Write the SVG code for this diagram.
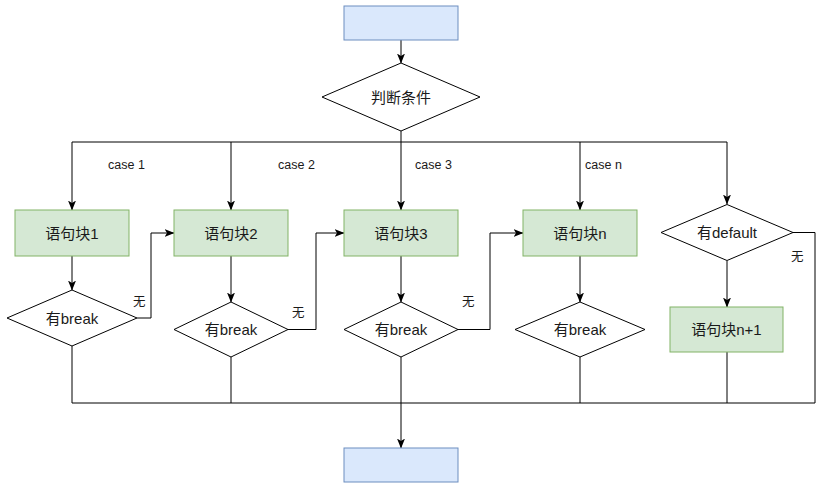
<svg xmlns="http://www.w3.org/2000/svg" width="831" height="489" viewBox="0 0 831 489">
<style>
.blue{fill:#dae8fc;stroke:#6c8ebf;stroke-width:1}
.green{fill:#d5e8d4;stroke:#82b366;stroke-width:1}
.dia{fill:#ffffff;stroke:#000000;stroke-width:1}
.t{font-family:"Liberation Sans","Noto Sans CJK SC",sans-serif;font-size:15px;fill:#1a1a1a;text-anchor:middle;dominant-baseline:central}
.lbl{font-family:"Liberation Sans","Noto Sans CJK SC",sans-serif;font-size:12.5px;fill:#1a1a1a;dominant-baseline:central}
.c{fill:none;stroke:#000000;stroke-width:1}
</style>
<defs>
<marker id="arr" viewBox="0 0 10 8" refX="9.5" refY="4" markerWidth="10" markerHeight="8" markerUnits="userSpaceOnUse" orient="auto">
<path d="M0,0 L10,4 L0,8 L2.5,4 Z" fill="#000000"/>
</marker>
</defs>
<rect width="831" height="489" fill="#ffffff"/>
<g id="connectors">
<path class="c" d="M401,40 L401,63" marker-end="url(#arr)"/>
<path class="c" d="M401,131 L401,210" marker-end="url(#arr)"/>
<path class="c" d="M72,142 L727,142"/>
<path class="c" d="M72,142 L72,210" marker-end="url(#arr)"/>
<path class="c" d="M231,142 L231,210" marker-end="url(#arr)"/>
<path class="c" d="M580,142 L580,210" marker-end="url(#arr)"/>
<path class="c" d="M727,142 L727,204" marker-end="url(#arr)"/>
<path class="c" d="M72,256 L72,290" marker-end="url(#arr)"/>
<path class="c" d="M231,256 L231,302" marker-end="url(#arr)"/>
<path class="c" d="M401,256 L401,302" marker-end="url(#arr)"/>
<path class="c" d="M580,256 L580,302" marker-end="url(#arr)"/>
<path class="c" d="M727,261 L727,307" marker-end="url(#arr)"/>
<path class="c" d="M137,318 L151,318 L151,233 L174,233" marker-end="url(#arr)"/>
<path class="c" d="M288,329.5 L316,329.5 L316,233 L344,233" marker-end="url(#arr)"/>
<path class="c" d="M458,329.5 L490,329.5 L490,233 L523,233" marker-end="url(#arr)"/>
<path class="c" d="M793,232.5 L815,232.5 L815,403 L72,403"/>
<path class="c" d="M72,346 L72,403"/>
<path class="c" d="M231,357 L231,403"/>
<path class="c" d="M580,357 L580,403"/>
<path class="c" d="M727,352 L727,403"/>
<path class="c" d="M401,357 L401,448" marker-end="url(#arr)"/>
<text class="lbl" x="108" y="165">case 1</text>
<text class="lbl" x="278" y="165">case 2</text>
<text class="lbl" x="415" y="165">case 3</text>
<text class="lbl" x="585" y="165">case n</text>
<text class="lbl" x="133" y="302">无</text>
<text class="lbl" x="292" y="313">无</text>
<text class="lbl" x="462" y="302">无</text>
<text class="lbl" x="791" y="257">无</text>
</g>
<g id="start"><rect class="blue" x="344" y="6" width="114" height="34"/></g>
<g id="cond"><polygon class="dia" points="401,63 480,97 401,131 322,97"/><text class="t" x="401" y="97">判断条件</text></g>
<g id="block1"><rect class="green" x="15" y="210" width="114" height="46"/><text class="t" x="72" y="233">语句块1</text></g>
<g id="block2"><rect class="green" x="174" y="210" width="114" height="46"/><text class="t" x="231" y="233">语句块2</text></g>
<g id="block3"><rect class="green" x="344" y="210" width="114" height="46"/><text class="t" x="401" y="233">语句块3</text></g>
<g id="blockn"><rect class="green" x="523" y="210" width="114" height="46"/><text class="t" x="580" y="233">语句块n</text></g>
<g id="default"><polygon class="dia" points="727,204.5 793,232.5 727,260.5 661,232.5"/><text class="t" x="727" y="232.5">有default</text></g>
<g id="break1"><polygon class="dia" points="72,290 137,318 72,346 7,318"/><text class="t" x="72" y="318">有break</text></g>
<g id="break2"><polygon class="dia" points="231,302 288,329.5 231,357 174,329.5"/><text class="t" x="231" y="329.5">有break</text></g>
<g id="break3"><polygon class="dia" points="401,302 458,329.5 401,357 344,329.5"/><text class="t" x="401" y="329.5">有break</text></g>
<g id="breakn"><polygon class="dia" points="580,302 645,329.5 580,357 515,329.5"/><text class="t" x="580" y="329.5">有break</text></g>
<g id="blockn1"><rect class="green" x="670" y="307" width="113" height="45"/><text class="t" x="726.5" y="329.5">语句块n+1</text></g>
<g id="end"><rect class="blue" x="344" y="448" width="114" height="34"/></g>
</svg>
